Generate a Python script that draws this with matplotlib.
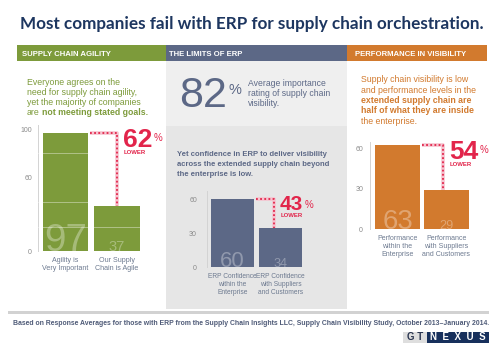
import matplotlib
matplotlib.use('Agg')
import matplotlib.pyplot as plt
from matplotlib import font_manager
from matplotlib.patches import Rectangle

W, H = 500, 353

# ---- data ----
agility_labels = ['Agility is\nVery Important', 'Our Supply\nChain is Agile']
agility_values = [97, 37]
agility_drop = 62

visibility_rating = 82

erp_labels = ['ERP Confidence\nwithin the\nEnterprise', 'ERP Confidence\nwith Suppliers\nand Customers']
erp_values = [60, 34]
erp_drop = 43

perf_labels = ['Performance\nwithin the\nEnterprise', 'Performance\nwith Suppliers\nand Customers']
perf_values = [63, 29]
perf_drop = 54

title = 'Most companies fail with ERP for supply chain orchestration.'
footnote = ('Based on Response Averages for those with ERP from the Supply Chain Insights LLC, '
            'Supply Chain Visibility Study, October 2013\u2013January 2014.')

GREEN = '#7d9b3b'
SLATE = '#5c6886'
ORANGE = '#d27a2e'
RED = '#e2254b'
PINK = '#f6c3cf'
NAVY = '#1d3660'
LABEL = '#6d7a90'


def pick_narrow():
    for f in font_manager.fontManager.ttflist:
        if f.name == 'Liberation Sans Narrow':
            return dict(family='Liberation Sans Narrow')
    return dict(family='Liberation Sans')


NARROW = pick_narrow()

fig = plt.figure(figsize=(5, 3.53), dpi=100)
fig.patch.set_facecolor('white')
bg = fig.add_axes([0, 0, 1, 1])
bg.set_xlim(0, W)
bg.set_ylim(H, 0)
bg.axis('off')


def txt(x, y, s, size, color, weight='normal', font=None, **kw):
    font = font or NARROW
    kw.setdefault('va', 'baseline')
    kw.setdefault('ha', 'left')
    return bg.text(x, y, s, fontsize=size, color=color, fontweight=weight, **font, **kw)


# panels and header bands
bg.add_patch(Rectangle((166, 60), 181, 66, color='#efefef', lw=0))
bg.add_patch(Rectangle((166, 126), 181, 183, color='#e6e6e6', lw=0))
bg.add_patch(Rectangle((17, 45), 149, 15.5, color=GREEN, lw=0))
bg.add_patch(Rectangle((166, 45), 181, 15.5, color=SLATE, lw=0))
bg.add_patch(Rectangle((347, 45), 140, 15.5, color=ORANGE, lw=0))
bg.add_patch(Rectangle((8, 311), 481, 3, color='#d2d2d2', lw=0))

txt(251.5, 29.5, title, 12.3, NAVY, 'bold', dict(family='Lato'), ha='center')

txt(22, 56.5, 'SUPPLY CHAIN AGILITY', 5.6, 'white', 'bold')
txt(169, 56.5, 'THE LIMITS OF ERP', 5.6, 'white', 'bold')
txt(355, 56.5, 'PERFORMANCE IN VISIBILITY', 5.6, 'white', 'bold')

# left text
for i, line in enumerate(['Everyone agrees on the', 'need for supply chain agility,',
                          'yet the majority of companies']):
    txt(27, 85 + 10 * i, line, 6.3, GREEN)
t_are = txt(27, 115, 'are', 6.3, GREEN)
bg.annotate('not meeting stated goals.', xy=(1, 0), xycoords=t_are, xytext=(1.6, 0),
            textcoords='offset points', ha='left', va='bottom', fontsize=6.3,
            color=GREEN, fontweight='bold', **NARROW)

# middle top: 82%
t82 = txt(179, 107, str(visibility_rating), 31, SLATE)
bg.annotate('%', xy=(1, 1), xycoords=t82, xytext=(1, -10), textcoords='offset points',
            ha='left', va='center', fontsize=10.5, color=SLATE, **NARROW)
for i, line in enumerate(['Average importance', 'rating of supply chain', 'visibility.']):
    txt(248, 86 + 10 * i, line, 6.2, SLATE)

for i, line in enumerate(['Yet confidence in ERP to deliver visibility',
                          'across the extended supply chain beyond',
                          'the enterprise is low.']):
    txt(177, 156 + 10 * i, line, 5.5, SLATE, 'bold')

# right text
right_lines = [('Supply chain visibility is low', 'normal'),
               ('and performance levels in the', 'normal'),
               ('extended supply chain are', 'bold'),
               ('half of what they are inside', 'bold'),
               ('the enterprise.', 'normal')]
for i, (line, wt) in enumerate(right_lines):
    txt(361, 82.5 + 10.25 * i, line, 6.3, ORANGE, wt)

# footnote and logo
txt(489, 325, footnote, 4.95, '#4f5b78', 'bold', ha='right')
bg.add_patch(Rectangle((403, 331.5), 24, 11, color='#dedede', lw=0))
bg.add_patch(Rectangle((427, 331.5), 62, 11, color='#17305c', lw=0))
txt(415, 337, 'G T', 7, '#2a3550', 'bold', dict(family='Liberation Sans'), ha='center', va='center')
txt(458, 337, 'N  E  X  U  S', 7, 'white', 'bold', dict(family='Liberation Sans'), ha='center', va='center')


def bar_panel(labels, values, drop, color, axis_x, zero_y, unit, c0, step, bar_w,
              top, ticks, grid, pad, cx, drop_size, label_size):
    right_px = c0 + step + bar_w / 2 + 3
    ax = fig.add_axes([axis_x / W, (H - zero_y) / H, (right_px - axis_x) / W, top * unit / H])
    ax.set_facecolor('none')
    x = [0, 1]
    ax.bar(x, values, width=bar_w / step, color=color, zorder=1)
    ax.set_xlim(-(c0 - axis_x) / step, (right_px - c0) / step)
    ax.set_ylim(0, top)
    for s in ['top', 'right', 'bottom']:
        ax.spines[s].set_visible(False)
    ax.spines['left'].set_color('#d3d3d3')
    ax.spines['left'].set_linewidth(0.7)
    ax.set_yticks(ticks)
    ax.set_yticks(grid, minor=True)
    ax.grid(which='minor', axis='y', color='white', alpha=0.45, lw=0.6, zorder=2)
    ax.set_axisbelow(False)
    ax.tick_params(axis='y', which='both', length=0, pad=pad, labelsize=5, labelcolor='#8a8a8a')
    ax.set_xticks(x, labels)
    ax.tick_params(axis='x', length=0, pad=4.5, labelsize=label_size, labelcolor=LABEL)
    for lab in ax.get_xticklabels() + ax.get_yticklabels():
        lab.set_fontfamily(NARROW['family'])
    for lab in ax.get_xticklabels():
        lab.set_linespacing(1.15)

    # big faded numbers inside the bars
    for xi, v in zip(x, values):
        ax.text(xi, 0, str(v), ha='center', va='baseline', fontsize=0.235 * v * unit,
                color='white', alpha=0.32, zorder=3, **NARROW)

    # dotted connector
    xs = (bar_w / 2 + 2) / step
    px = [xs, cx, cx]
    py = [values[0], values[0], values[1]]
    ax.plot(px, py, color=PINK, lw=2.6, solid_capstyle='butt', clip_on=False, zorder=4)
    ax.plot(px, py, color=RED, lw=1.3, ls=(0, (1, 1.3)), clip_on=False, zorder=5)

    base = -0.55 * drop_size
    num = ax.annotate(str(drop), xy=(cx, values[0]), xytext=(4.3, base),
                      textcoords='offset points', ha='left', va='baseline',
                      fontsize=drop_size, color=RED, fontweight='bold',
                      annotation_clip=False, **NARROW)
    ax.annotate('%', xy=(1, 1), xycoords=num, xytext=(1, -3.2), textcoords='offset points',
                ha='left', va='top', fontsize=7, color=RED, **NARROW)
    ax.annotate('LOWER', xy=(cx, values[0]), xytext=(5, base - 1.8),
                textcoords='offset points', ha='left', va='top', fontsize=4.3,
                color=RED, fontweight='bold', annotation_clip=False, **NARROW)
    return ax


bar_panel(agility_labels, agility_values, agility_drop, GREEN, 38, 251, 1.22, 65.5, 51.5,
          45.5, 103, [0, 60, 100], [20, 40, 60, 80], 4.3, 1.0, 19, 5.1)
bar_panel(erp_labels, erp_values, erp_drop, SLATE, 207, 267, 1.133, 232.5, 48,
          43.5, 67, [0, 30, 60], [30], 7.2, 0.86, 15, 4.8)
bar_panel(perf_labels, perf_values, perf_drop, ORANGE, 370, 229, 1.338, 397.5, 49,
          45, 65, [0, 30, 60], [30, 60], 5, 0.93, 19, 5.0)

fig.savefig('out.png', dpi=100, facecolor='white')
